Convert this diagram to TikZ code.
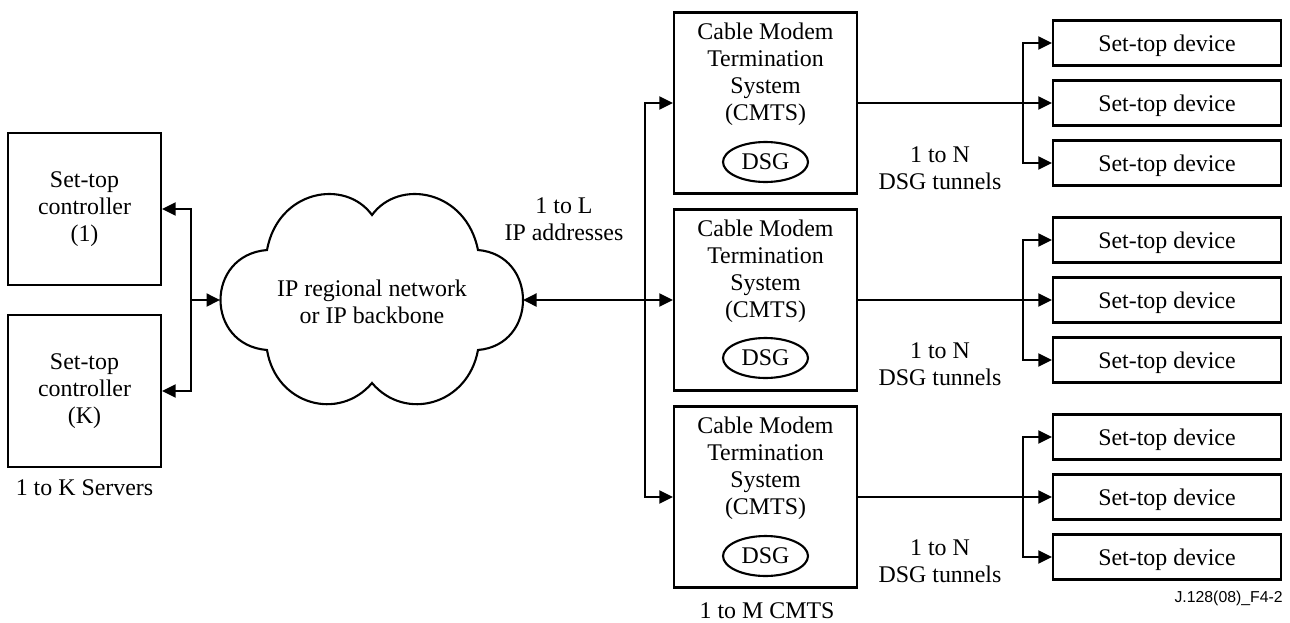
\documentclass[tikz,border=0pt]{standalone}
\usepackage{fontspec}
\setmainfont{Liberation Serif}
\newfontfamily\figfont{Liberation Sans}
\usepackage{tikz}
\usetikzlibrary{positioning,shapes.geometric,arrows.meta}

\tikzset{
  txt/.style={font=\fontsize{13.6}{15.3}\selectfont, align=center, inner sep=0pt},
  ctrlbox/.style={txt, draw, line width=1.3pt, minimum width=3.06cm, minimum height=3.04cm},
  cmtsbox/.style={draw, line width=1.3pt, minimum width=3.66cm, minimum height=3.62cm},
  devbox/.style={txt, draw, line width=1.3pt, minimum width=4.56cm, minimum height=0.9cm, text depth=0pt},
  dsgoval/.style={txt, draw, ellipse, line width=1.2pt, minimum width=1.7cm, minimum height=0.8cm},
  tip/.style={-{Triangle[length=0.27cm,width=0.26cm]}},
  conn/.style={line width=1.1pt, tip},
}

\begin{document}
\begin{tikzpicture}[x=0.02cm, y=-0.02cm]
            \useasboundingbox (0,0) rectangle (1290,622);
            % servers
            \node[ctrlbox] (ctrl1) at (84.5,209) {Set-top\\controller\\(1)};
            \node[ctrlbox] (ctrlK) at (84.5,391) {Set-top\\controller\\(K)};
            \node[txt] (servers) at (84.5,488) {1 to K Servers};
            % cloud
            \draw[line width=1.2pt] (267,250) .. controls (278,190) and (345,178) .. (372,215)
                .. controls (399,178) and (466,190) .. (478,250)
                .. controls (538,255) and (538,345) .. (478,350)
                .. controls (468,405) and (405,422) .. (372,383)
                .. controls (339,422) and (276,405) .. (267,350)
                .. controls (205,345) and (205,255) .. cycle;
            \node[txt] (cloud) at (372,302) {IP regional network\\or IP backbone};
            \coordinate (cloudW) at (220,300);
            \coordinate (cloudE) at (523,300);
            \node[txt] (addr) at (564,219) {1 to L\\IP addresses};
            % CMTS
            \node[cmtsbox] (cmts1) at (765.5,103) {};
            \node[txt] (cmts1txt) at (765.5,74) {Cable Modem\\Termination\\System\\(CMTS)};
            \node[dsgoval] (dsg1) at (765.5,162) {DSG};
            \node[cmtsbox] (cmts2) at (765.5,300) {};
            \node[txt] (cmts2txt) at (765.5,271) {Cable Modem\\Termination\\System\\(CMTS)};
            \node[dsgoval] (dsg2) at (765.5,358) {DSG};
            \node[cmtsbox] (cmts3) at (765.5,497) {};
            \node[txt] (cmts3txt) at (765.5,468) {Cable Modem\\Termination\\System\\(CMTS)};
            \node[dsgoval] (dsg3) at (765.5,556) {DSG};
            \node[txt] (cmtsnum) at (767,611) {1 to M CMTS};
            % set-top devices
            \node[devbox] (dev1a) at (1167,43) {Set-top device};
            \node[devbox] (dev1b) at (1167,103) {Set-top device};
            \node[devbox] (dev1c) at (1167,163) {Set-top device};
            \node[devbox] (dev2a) at (1167,240) {Set-top device};
            \node[devbox] (dev2b) at (1167,300) {Set-top device};
            \node[devbox] (dev2c) at (1167,360) {Set-top device};
            \node[devbox] (dev3a) at (1167,437) {Set-top device};
            \node[devbox] (dev3b) at (1167,497) {Set-top device};
            \node[devbox] (dev3c) at (1167,557) {Set-top device};
            \node[txt] (tun1) at (940,168) {1 to N\\DSG tunnels};
            \node[txt] (tun2) at (940,364) {1 to N\\DSG tunnels};
            \node[txt] (tun3) at (940,561) {1 to N\\DSG tunnels};
            \node[font=\figfont\fontsize{9}{10}\selectfont, anchor=east, inner sep=0pt] (figid) at (1283,598) {J.128(08)\_F4-2};
            % connectors
            \coordinate (lj) at (191,300);
            \draw[conn] (lj) |- (ctrl1);
            \draw[conn] (lj) |- (ctrlK);
            \draw[conn] (lj) -- (cloudW);
            \coordinate (rj) at (645,300);
            \draw[conn, {Triangle[length=0.27cm,width=0.26cm]}-{Triangle[length=0.27cm,width=0.26cm]}] (cloudE) -- (cmts2);
            \draw[conn] (rj) |- (cmts1);
            \draw[conn] (rj) |- (cmts3);
            \coordinate (b1) at (1023,103);
            \coordinate (b2) at (1023,300);
            \coordinate (b3) at (1023,497);
            \draw[conn] (cmts1) -- (dev1b);
            \draw[conn] (b1) |- (dev1a);
            \draw[conn] (b1) |- (dev1c);
            \draw[conn] (cmts2) -- (dev2b);
            \draw[conn] (b2) |- (dev2a);
            \draw[conn] (b2) |- (dev2c);
            \draw[conn] (cmts3) -- (dev3b);
            \draw[conn] (b3) |- (dev3a);
            \draw[conn] (b3) |- (dev3c);
\end{tikzpicture}
\end{document}
